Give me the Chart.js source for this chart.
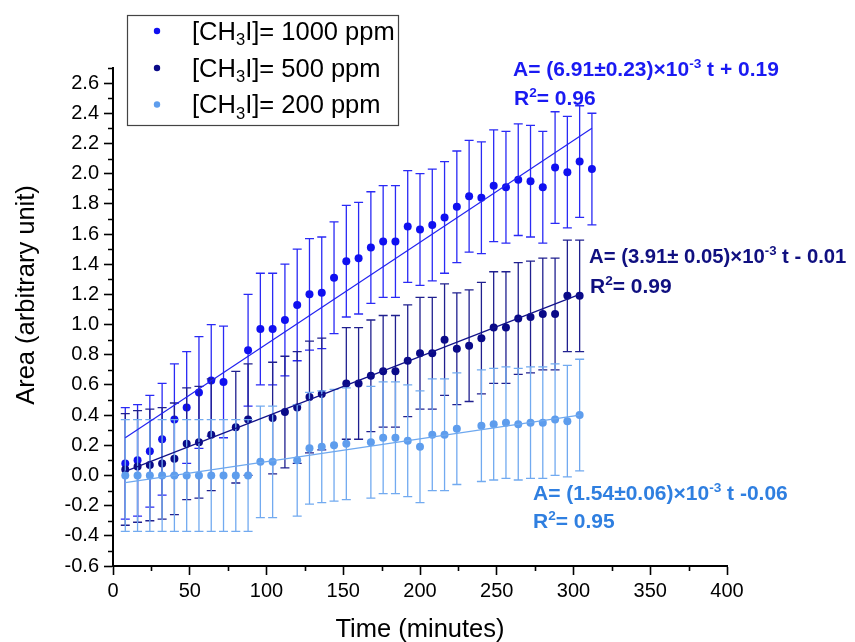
<!DOCTYPE html>
<html><head><meta charset="utf-8">
<script src="https://cdn.jsdelivr.net/npm/chart.js@4.4.0/dist/chart.umd.min.js"></script>
<style>html,body{margin:0;padding:0;background:#fff;}canvas{display:block;}</style>
</head><body>
<canvas id="c" width="855" height="642"></canvas>
<script>
// ---- data (time in minutes, area in arbitrary units) ----
const times = [8,16,24,32,40,48,56,64,72,80,88,96,104,112,120,128,136,144,152,160,
               168,176,184,192,200,208,216,224,232,240,248,256,264,272,280,288,296,304,312];
const area1000 = [0.08,0.10,0.16,0.24,0.37,0.45,0.55,0.63,0.62,null,0.83,0.97,0.97,1.03,1.13,1.20,1.21,1.31,1.42,1.44,
                  1.51,1.55,1.55,1.65,1.63,1.66,1.71,1.78,1.85,1.84,1.92,1.91,1.96,1.95,1.91,2.04,2.01,2.08,2.03];
const area500  = [0.04,0.06,0.07,0.08,0.11,0.21,0.22,0.27,null,0.32,0.37,null,0.38,0.42,0.45,0.52,0.54,null,0.61,0.61,
                  0.66,0.69,0.69,0.76,0.81,0.81,0.90,0.84,0.86,0.91,0.98,0.98,1.04,1.05,1.07,1.07,1.19,1.19];
const area200  = [0.00,0.00,0.00,0.00,0.00,0.00,0.00,0.00,0.00,0.00,0.00,0.09,0.09,null,0.10,0.18,0.19,0.20,0.21,null,
                  0.22,0.25,0.25,0.23,0.19,0.27,0.27,0.31,null,0.33,0.34,0.35,0.34,0.35,0.35,0.37,0.36,0.40];
const err1000 = [0.37,0.37,0.37,0.37,0.37,0.37,0.37,0.37,0.37,0.37,0.37,0.37,0.37,0.37,0.37,0.37,0.37,0.37,0.37,0.37,
                 0.37,0.37,0.37,0.37,0.37,0.37,0.37,0.37,0.37,0.37,0.37,0.37,0.37,0.37,0.37,0.37,0.37,0.37,0.37];
const err500  = [0.37,0.37,0.37,0.37,0.37,0.37,0.37,0.37,0.37,0.37,0.37,0.37,0.37,0.37,0.37,0.37,0.37,0.37,0.37,0.37,
                 0.37,0.37,0.37,0.37,0.37,0.37,0.37,0.37,0.37,0.37,0.37,0.37,0.37,0.37,0.37,0.37,0.37,0.37];
const err200  = [0.37,0.37,0.37,0.37,0.37,0.37,0.37,0.37,0.37,0.37,0.37,0.37,0.37,0.37,0.37,0.37,0.37,0.37,0.37,0.37,
                 0.37,0.37,0.37,0.37,0.37,0.37,0.37,0.37,0.37,0.37,0.37,0.37,0.37,0.37,0.37,0.37,0.37,0.37];
// linear fits: [t, A] at start and end
const fit1000 = [[8,0.25],[312,2.30]];
const fit500  = [[8,0.027],[304,1.20]];
const fit200  = [[8,-0.048],[304,0.40]];
const legendLabels = ['1000 ppm','500 ppm','200 ppm'];
const xTicks = [0,50,100,150,200,250,300,350,400];
const xMinor = [25,75,125,175,225,275,325,375];
const yTicks = [-0.6,-0.4,-0.2,0.0,0.2,0.4,0.6,0.8,1.0,1.2,1.4,1.6,1.8,2.0,2.2,2.4,2.6];
const yMinor = [-0.5,-0.3,-0.1,0.1,0.3,0.5,0.7,0.9,1.1,1.3,1.5,1.7,1.9,2.1,2.3,2.5,2.7];

const FONT = "'Liberation Sans', Arial, Helvetica, sans-serif";
const C1000 = '#1010f0', C500 = '#0a0a88', C200 = '#5e9ded';

function pts(vals, errs){
  const out = [];
  vals.forEach((v,i)=>{ if(v!==null) out.push({x: times[i], y: v, e: errs[i]}); });
  return out;
}
function fitPts(f){ return f.map(p=>({x:p[0], y:p[1]})); }

const errorBars = {
  id:'errorBars',
  beforeDatasetDraw(chart, args){
    const ds = chart.data.datasets[args.index];
    if(!ds.errColor) return;
    const {ctx, scales:{x,y}} = chart;
    ctx.save();
    ctx.strokeStyle = ds.errColor; ctx.lineWidth = 1.3;
    ds.data.forEach(p=>{
      const px = x.getPixelForValue(p.x);
      const yt = y.getPixelForValue(p.y + p.e), yb = y.getPixelForValue(p.y - p.e);
      ctx.beginPath();
      ctx.moveTo(px, yt); ctx.lineTo(px, yb);
      ctx.moveTo(px-4.5, yt); ctx.lineTo(px+4.5, yt);
      ctx.moveTo(px-4.5, yb); ctx.lineTo(px+4.5, yb);
      ctx.stroke();
    });
    ctx.restore();
  }
};

function rich(ctx, parts, x, y, size, bold, color){
  ctx.fillStyle = color; ctx.textBaseline = 'alphabetic'; ctx.textAlign = 'left';
  let cx = x;
  parts.forEach(p=>{
    const s = p.sup || p.sub ? size*0.65 : size;
    ctx.font = (bold?'bold ':'') + s + 'px ' + FONT;
    const dy = p.sup ? -size*0.38 : (p.sub ? size*0.22 : 0);
    ctx.fillText(p.t, cx, y + dy);
    cx += ctx.measureText(p.t).width;
  });
  return cx - x;
}

const extras = {
  id:'extras',
  afterDraw(chart){
    const {ctx, scales:{x,y}, chartArea:a} = chart;
    ctx.save();
    // minor ticks
    ctx.strokeStyle = '#000'; ctx.lineWidth = 1.6;
    ctx.beginPath();
    yMinor.forEach(v=>{ const py = Math.round(y.getPixelForValue(v))+0.5; ctx.moveTo(a.left-5, py); ctx.lineTo(a.left, py); });
    xMinor.forEach(v=>{ const px = Math.round(x.getPixelForValue(v))+0.5; ctx.moveTo(px, a.bottom); ctx.lineTo(px, a.bottom+5); });
    ctx.stroke();
    // axis titles
    ctx.fillStyle = '#000';
    ctx.font = '25.5px ' + FONT;
    ctx.textAlign = 'center'; ctx.textBaseline = 'middle';
    ctx.fillText('Time (minutes)', (a.left+a.right)/2, 630);
    ctx.save();
    ctx.translate(27, 295); ctx.rotate(-Math.PI/2);
    ctx.fillText('Area (arbitrary unit)', 0, 0);
    ctx.restore();
    // legend
    ctx.strokeStyle = '#444'; ctx.lineWidth = 1.2;
    ctx.strokeRect(127.5, 15.5, 271, 110);
    const cols = [C1000, C500, C200];
    const base = [39.5, 76.5, 113];
    legendLabels.forEach((lab,i)=>{
      ctx.fillStyle = cols[i];
      ctx.beginPath(); ctx.arc(157, base[i]-8.5, 3.2, 0, Math.PI*2); ctx.fill();
      rich(ctx, [{t:'[CH'},{t:'3',sub:true},{t:'I]= '+lab}], 192, base[i], 25.5, false, '#000');
    });
    // fit equations
    const F = 21;
    rich(ctx, [{t:'A= (6.91\u00b10.23)\u00d710'},{t:'-3',sup:true},{t:' t + 0.19'}], 513, 76, F, true, '#1a1af2');
    rich(ctx, [{t:'R'},{t:'2',sup:true},{t:'= 0.96'}], 514, 105, F, true, '#1a1af2');
    rich(ctx, [{t:'A= (3.91\u00b1 0.05)\u00d710'},{t:'-3',sup:true},{t:' t - 0.01'}], 589, 263, 20.3, true, '#101080');
    rich(ctx, [{t:'R'},{t:'2',sup:true},{t:'= 0.99'}], 590, 293, F, true, '#101080');
    rich(ctx, [{t:'A= (1.54\u00b10.06)\u00d710'},{t:'-3',sup:true},{t:' t -0.06'}], 533, 500, F, true, '#2f7fe0');
    rich(ctx, [{t:'R'},{t:'2',sup:true},{t:'= 0.95'}], 533, 528, F, true, '#2f7fe0');
    ctx.restore();
  }
};

new Chart(document.getElementById('c'), {
  type: 'scatter',
  data: { datasets: [
    {label:'fit1000', type:'line', data: fitPts(fit1000), borderColor:'#2222f0', borderWidth:1.2, pointRadius:0, order:0},
    {label:'fit500',  type:'line', data: fitPts(fit500),  borderColor:'#12128a', borderWidth:1.2, pointRadius:0, order:0},
    {label:'fit200',  type:'line', data: fitPts(fit200),  borderColor:'#6ea8ef', borderWidth:1.2, pointRadius:0, order:0},
    {label:'[CH3I]= 200 ppm',  data: pts(area200, err200),  backgroundColor:C200,  borderWidth:0, pointRadius:4, errColor:'#72aaf0', order:1},
    {label:'[CH3I]= 500 ppm',  data: pts(area500, err500),  backgroundColor:C500,  borderWidth:0, pointRadius:4, errColor:'#20208f', order:2},
    {label:'[CH3I]= 1000 ppm', data: pts(area1000, err1000), backgroundColor:C1000, borderWidth:0, pointRadius:4, errColor:'#2a2af5', order:3}
  ]},
  options: {
    responsive:false, animation:false, devicePixelRatio:1,
    layout:{padding:{top:68, right:128, left:0, bottom:0}},
    plugins:{legend:{display:false}, tooltip:{enabled:false}},
    scales:{
      x:{type:'linear', min:0, max:400,
         afterBuildTicks: s=>{ s.ticks = xTicks.map(v=>({value:v})); },
         afterFit: s=>{ s.height = 76; },
         ticks:{color:'#000', font:{family:FONT, size:20}, padding:4, maxRotation:0, callback:v=>String(v)},
         grid:{display:true, drawOnChartArea:false, drawTicks:true, tickLength:9, tickColor:'#000', tickWidth:1.6},
         border:{display:true, color:'#000', width:2}},
      y:{type:'linear', min:-0.6, max:2.7,
         afterBuildTicks: s=>{ s.ticks = yTicks.map(v=>({value:v})); },
         afterFit: s=>{ s.width = 113; },
         ticks:{color:'#000', font:{family:FONT, size:20}, padding:5, callback:v=>v.toFixed(1)},
         grid:{display:true, drawOnChartArea:false, drawTicks:true, tickLength:9, tickColor:'#000', tickWidth:1.6},
         border:{display:true, color:'#000', width:2}}
    }
  },
  plugins:[errorBars, extras]
});
</script>
</body></html>
